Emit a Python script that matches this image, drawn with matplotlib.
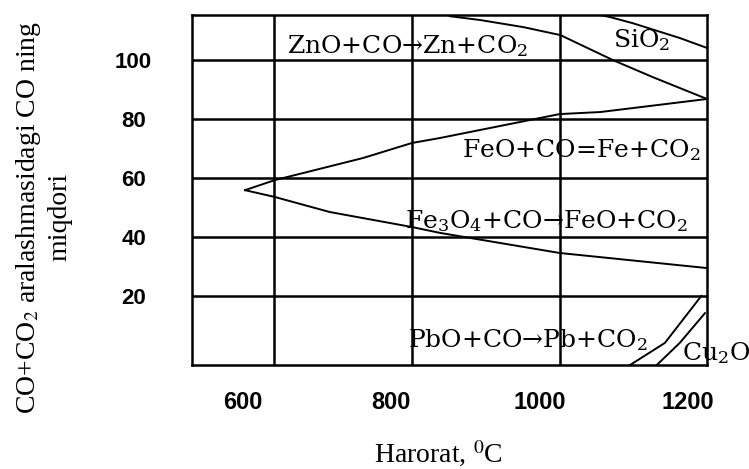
import numpy as np
import matplotlib.pyplot as plt

# values
# x: temperature (C), y: CO share in the CO+CO2 mixture (%)
x_ticks = [600, 800, 1000, 1200]
x_labels = ['600', '800', '1000', '1200']
y_ticks = [100, 80, 60, 40, 20]
y_labels = ['100', '80', '60', '40', '20']

grid_x = [642, 828, 1028]
grid_y = [100, 80, 60, 40, 20]

# ZnO / SiO2 boundary
zn_x = [879, 920, 978, 1028, 1099, 1153, 1223]
zn_y = [114.9, 113.6, 111.2, 108.5, 100, 94.2, 87.1]

# upper SiO2 line
si_x = [1082, 1095, 1126, 1189, 1225]
si_y = [115.3, 114.6, 112.5, 107.5, 104.2]

# FeO field: upper and lower branch
feo_up_x = [603, 643, 686, 762, 828, 866, 1027, 1082, 1225]
feo_up_y = [55.9, 59.3, 62.0, 66.8, 71.9, 73.6, 81.7, 82.4, 86.8]
feo_lo_x = [603, 643, 717, 828, 866, 1027, 1225]
feo_lo_y = [55.9, 53.6, 48.5, 43.4, 41.4, 34.6, 29.5]

# PbO and Cu2O lines
pb_x = [1122, 1169, 1218]
pb_y = [-3.4, 4.1, 20.0]
cu_x = [1158, 1189, 1223]
cu_y = [-3.4, 4.1, 14.2]

reactions = ['ZnO+CO→Zn+CO$_2$', 'SiO$_2$', 'FeO+CO=Fe+CO$_2$',
             'Fe$_3$O$_4$+CO→FeO+CO$_2$', 'PbO+CO→Pb+CO$_2$', 'Cu$_2$O']
react_x = [660, 1099, 895, 819, 823, 1192]
react_y = [102.4, 104.4, 67.1, 43.1, 2.7, -1.7]

fig = plt.figure(figsize=(7.49, 4.69), dpi=100)
ax = fig.add_axes([0.2563, 0.2217, 0.6876, 0.7463])
ax.set_xlim(531.5, 1225.7)
ax.set_ylim(-3.4, 115.3)

lw = 1.8
for gx in grid_x:
    ax.axvline(gx, color='black', lw=lw)
for gy in grid_y:
    ax.axhline(gy, color='black', lw=lw)
for s in ax.spines.values():
    s.set_linewidth(lw)

cw = 1.4
ax.plot(zn_x, zn_y, color='black', lw=cw)
ax.plot(si_x, si_y, color='black', lw=cw)
ax.plot(feo_up_x, feo_up_y, color='black', lw=cw)
ax.plot(feo_lo_x, feo_lo_y, color='black', lw=cw)
ax.plot(pb_x, pb_y, color='black', lw=cw)
ax.plot(cu_x, cu_y, color='black', lw=cw)

for txt, tx, ty in zip(reactions, react_x, react_y):
    ax.text(tx, ty, txt, fontsize=18, family=['DejaVu Serif', 'DejaVu Sans'],
            math_fontfamily='dejavuserif', ha='left', va='baseline')

ax.set_xticks(x_ticks)
ax.set_xticklabels(x_labels, fontsize=17, fontweight='bold', family='Liberation Sans')
ax.set_yticks(y_ticks)
ax.set_yticklabels(y_labels, fontsize=16, fontweight='bold', family='Liberation Sans')
ax.tick_params(axis='x', length=0, pad=19)
ax.tick_params(axis='y', length=0, pad=42)
for lbl in ax.get_yticklabels():
    lbl.set_horizontalalignment('center')

fig.text(438 / 749, 1 - 463 / 469, 'Harorat, $^0$C', fontsize=20,
         family='Liberation Serif', math_fontfamily='stix', ha='center', va='baseline')
fig.text(43 / 749, 1 - 217 / 469, 'CO+CO$_2$ aralashmasidagi CO ning\nmiqdori',
         fontsize=20, family='Liberation Serif', math_fontfamily='stix',
         rotation=90, ha='center', va='center', multialignment='center',
         linespacing=1.25)

fig.savefig('out.png', dpi=100)
